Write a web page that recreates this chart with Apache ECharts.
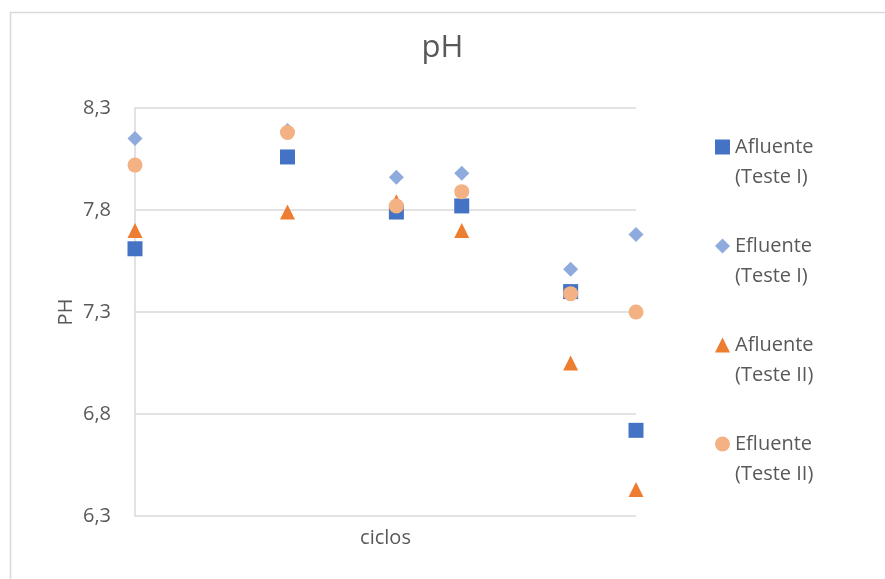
<!DOCTYPE html>
<html>
<head>
<meta charset="utf-8">
<script src="https://cdn.jsdelivr.net/npm/echarts@6/dist/echarts.min.js"></script>
<style>html,body{margin:0;padding:0;background:#fff;}#c{width:885px;height:579px;}</style>
</head>
<body>
<div id="c"></div>
<script>
// x positions of the cycles (no tick labels shown)
const ciclos = [0, 7, 12, 15, 20, 23];
const afluenteI  = [7.61, 8.06, 7.79, 7.82, 7.40, 6.72];
const efluenteI  = [8.15, 8.19, 7.96, 7.98, 7.51, 7.68];
const afluenteII = [7.70, 7.79, 7.84, 7.70, 7.05, 6.43];
const efluenteII = [8.02, 8.18, 7.82, 7.89, 7.39, 7.30];
const seriesNames = ['Afluente\n(Teste I)', 'Efluente\n(Teste I)', 'Afluente\n(Teste II)', 'Efluente\n(Teste II)'];
const yTicks = ['6,3', '6,8', '7,3', '7,8', '8,3'];

const colors = ['#4472C4', '#8FAADC', '#ED7D31', '#F4B183'];
const symbols = ['rect', 'diamond', 'triangle', 'circle'];
const allData = [afluenteI, efluenteI, afluenteII, efluenteII];
const font = 'Open Sans';
const txt = '#595959';

const chart = echarts.init(document.getElementById('c'));
chart.setOption({
  animation: false,
  backgroundColor: '#fff',
  textStyle: { fontFamily: font },
  graphic: [{
    type: 'rect', left: 8, top: 10, silent: true,
    shape: { width: 1000, height: 1000 },
    style: { fill: 'none', stroke: '#D9D9D9', lineWidth: 1.5 }
  }],
  title: {
    text: 'pH', left: 'center', top: 33, padding: 0,
    textStyle: { fontFamily: font, fontSize: 31, fontWeight: 'normal', color: txt }
  },
  legend: {
    orient: 'vertical', left: 715, top: 102, padding: 0,
    itemWidth: 15, itemHeight: 15, itemGap: 9,
    data: seriesNames.map((n, i) => ({ name: n, icon: symbols[i] })),
    formatter: name => '\n' + name,
    textStyle: { fontFamily: font, fontSize: 20, color: txt, lineHeight: 30 }
  },
  grid: { left: 135, right: 249, top: 108, bottom: 63 },
  xAxis: {
    type: 'value', min: 0, max: 23,
    name: 'ciclos', nameLocation: 'middle', nameGap: 12,
    nameTextStyle: { fontFamily: font, fontSize: 20, color: txt },
    axisLine: { show: false }, axisTick: { show: false },
    axisLabel: { show: false }, splitLine: { show: false }
  },
  yAxis: {
    type: 'value', min: 6.3, max: 8.3, interval: 0.5,
    name: 'PH', nameLocation: 'middle', nameGap: 59, nameRotate: 90,
    nameMoveOverlap: false,
    nameTextStyle: { fontFamily: font, fontSize: 20, color: txt },
    axisLine: { show: true, lineStyle: { color: '#D9D9D9', width: 1.5 } },
    axisTick: { show: false },
    axisLabel: {
      margin: 24, fontFamily: font, fontSize: 20, color: txt,
      formatter: v => { const i = Math.round((v - 6.3) / 0.5); return yTicks[i] !== undefined ? yTicks[i] : ''; }
    },
    splitLine: { show: true, lineStyle: { color: '#D9D9D9', width: 1.5 } }
  },
  series: allData.map((d, i) => ({
    name: seriesNames[i], type: 'scatter', symbol: symbols[i], symbolSize: 15,
    itemStyle: { color: colors[i], opacity: 1 },
    data: ciclos.map((x, j) => [x, d[j]])
  }))
});
</script>
</body>
</html>
